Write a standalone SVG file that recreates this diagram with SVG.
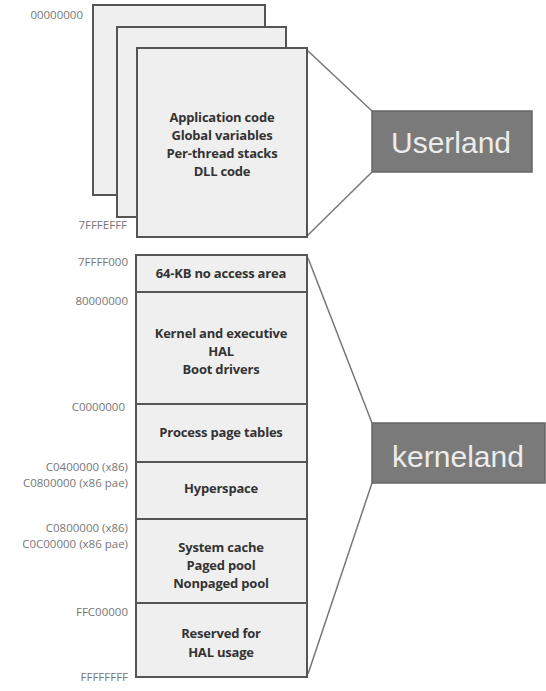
<svg xmlns="http://www.w3.org/2000/svg" width="546" height="691" viewBox="0 0 546 691">
  <style>
    .page { fill: #efefef; stroke: #555; stroke-width: 2; }
    .seg { fill: #efefef; stroke: #555; stroke-width: 2; }
    .addr { font-family: "Open Sans", "Liberation Sans", sans-serif; font-size: 11.5px; fill: #777; text-anchor: end; }
    .lbl { font-family: "Open Sans", "Liberation Sans", sans-serif; font-size: 13px; font-weight: 700; fill: #333; text-anchor: middle; letter-spacing: -0.2px; }
    .tag { fill: #7a7a7a; stroke: #666; stroke-width: 1.5; }
    .tagtxt { font-family: "Liberation Sans", Arial, sans-serif; font-size: 30px; fill: #ececec; text-anchor: middle; }
    .conn { stroke: #777; stroke-width: 1.5; fill: none; }
  </style>
  <rect width="546" height="691" fill="#ffffff"/>

  <!-- connectors from the address ranges to their tags -->
  <g id="connectors">
    <line class="conn" x1="307" y1="50" x2="372" y2="111"/>
    <line class="conn" x1="307" y1="236" x2="372" y2="172"/>
    <line class="conn" x1="308" y1="258" x2="372" y2="423"/>
    <line class="conn" x1="308" y1="674" x2="372" y2="483"/>
  </g>

  <!-- user address space: stacked per-process pages -->
  <g id="user-space">
    <rect class="page" x="93" y="5" width="172" height="190"/>
    <rect class="page" x="117" y="27" width="169" height="190"/>
    <rect class="page" x="137" y="48" width="170" height="189"/>
    <text class="lbl" x="222" y="122">Application code</text>
    <text class="lbl" x="222" y="140">Global variables</text>
    <text class="lbl" x="222" y="158">Per-thread stacks</text>
    <text class="lbl" x="222" y="176">DLL code</text>
    <text class="addr" x="83" y="19">00000000</text>
    <text class="addr" x="127" y="229">7FFFEFFF</text>
  </g>

  <!-- system address space -->
  <g id="no-access">
    <rect class="seg" x="136" y="255" width="171" height="37"/>
    <text class="lbl" x="221" y="278">64-KB no access area</text>
    <text class="addr" x="128" y="266">7FFFF000</text>
  </g>
  <g id="kernel">
    <rect class="seg" x="136" y="292" width="171" height="112"/>
    <text class="lbl" x="221" y="338">Kernel and executive</text>
    <text class="lbl" x="221" y="356">HAL</text>
    <text class="lbl" x="221" y="374">Boot drivers</text>
    <text class="addr" x="128" y="305">80000000</text>
  </g>
  <g id="page-tables">
    <rect class="seg" x="136" y="404" width="171" height="58"/>
    <text class="lbl" x="221" y="437">Process page tables</text>
    <text class="addr" x="125" y="411">C0000000</text>
  </g>
  <g id="hyperspace">
    <rect class="seg" x="136" y="462" width="171" height="57"/>
    <text class="lbl" x="221" y="493">Hyperspace</text>
    <text class="addr" x="128" y="471">C0400000 (x86)</text>
    <text class="addr" x="128" y="487">C0800000 (x86 pae)</text>
  </g>
  <g id="system-cache">
    <rect class="seg" x="136" y="519" width="171" height="84"/>
    <text class="lbl" x="221" y="552">System cache</text>
    <text class="lbl" x="221" y="570">Paged pool</text>
    <text class="lbl" x="221" y="588">Nonpaged pool</text>
    <text class="addr" x="128" y="532">C0800000 (x86)</text>
    <text class="addr" x="128" y="548">C0C00000 (x86 pae)</text>
  </g>
  <g id="hal-reserved">
    <rect class="seg" x="136" y="603" width="171" height="74"/>
    <text class="lbl" x="221" y="638">Reserved for</text>
    <text class="lbl" x="221" y="657">HAL usage</text>
    <text class="addr" x="128" y="616">FFC00000</text>
    <text class="addr" x="128" y="681">FFFFFFFF</text>
  </g>

  <!-- tags -->
  <g id="userland">
    <rect class="tag" x="372" y="111" width="160" height="61"/>
    <text class="tagtxt" x="451" y="153">Userland</text>
  </g>
  <g id="kerneland">
    <rect class="tag" x="372" y="423" width="173" height="60"/>
    <text class="tagtxt" x="458" y="467">kerneland</text>
  </g>
</svg>
